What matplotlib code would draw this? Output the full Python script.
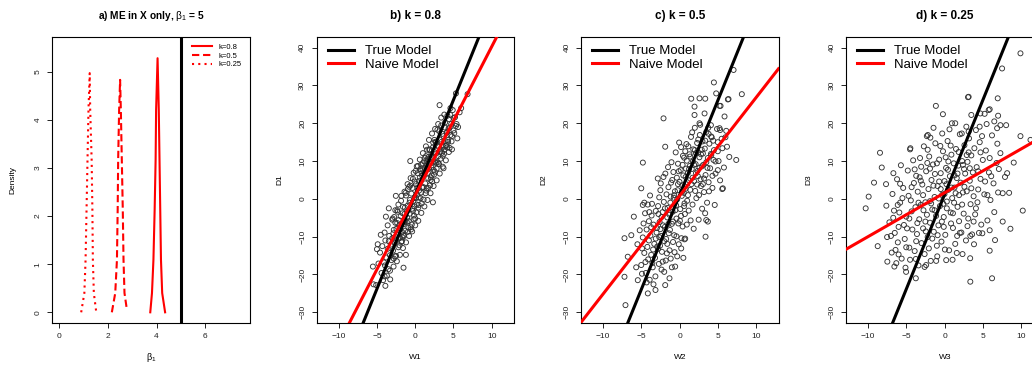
import numpy as np
import matplotlib
matplotlib.use('Agg')
import matplotlib.pyplot as plt
from matplotlib.lines import Line2D

plt.rcParams['font.family'] = ['Liberation Sans', 'DejaVu Sans']
plt.rcParams['mathtext.fontset'] = 'custom'
plt.rcParams['mathtext.rm'] = 'Liberation Sans'
plt.rcParams['mathtext.it'] = 'Liberation Sans:italic'
plt.rcParams['mathtext.bf'] = 'Liberation Sans:bold'

# ---------------- data ----------------
beta_true = 5
dens_labels = ['k=0.8', 'k=0.5', 'k=0.25']
dens08_x = [3.74, 3.81, 3.87, 3.92, 3.96, 3.98, 4.04, 4.09, 4.12, 4.15, 4.18, 4.23, 4.35]
dens08_y = [0.0, 0.40, 1.09, 2.13, 3.17, 4.21, 5.28, 4.21, 3.17, 2.13, 1.09, 0.40, 0.0]
dens05_x = [2.16, 2.30, 2.37, 2.40, 2.42, 2.46, 2.50, 2.53, 2.57, 2.61, 2.64, 2.68, 2.78]
dens05_y = [0.0, 0.40, 1.09, 2.13, 3.17, 4.21, 4.83, 4.21, 3.17, 2.13, 1.09, 0.40, 0.05]
dens025_x = [0.90, 1.03, 1.08, 1.12, 1.16, 1.20, 1.25, 1.27, 1.33, 1.36, 1.38, 1.42, 1.52]
dens025_y = [0.0, 0.40, 1.09, 2.13, 3.17, 4.21, 4.97, 4.21, 3.17, 2.13, 1.09, 0.40, 0.0]

# (W, D) points
points_b = [
    (3.18, 24.8), (6.84, 27.7), (5.32, 27.9), (4.58, 22.2), (5.32, 19.3), (4.49, 13.5), (3.70, 8.1),
    (-0.65, 10.0), (2.31, -0.9), (-2.53, 0.8), (-3.83, -4.7), (-1.22, -14.8), (-1.53, -18.2),
    (-5.53, -17.9), (-5.10, -22.8), (-3.27, -21.3), (-2.83, -17.9), (-5.0, -13.3), (-5.45, -22.6),
    (-4.6, -14.2), (-4.3, -12.5), (-4.1, -16.8), (-3.9, -11.0), (-3.8, -15.5), (-3.6, -13.2),
    (-3.5, -18.6), (-3.4, -9.8), (-3.3, -14.9), (-3.2, -12.1), (-3.1, -16.2), (-3.0, -10.4),
    (-4.4, -19.6), (-4.8, -17.1), (-3.7, -20.3), (-4.0, -8.9), (-4.2, -21.5), (-3.9, -23.0),
    (-2.9, -13.7), (-2.8, -8.2), (-2.7, -11.6), (-2.6, -6.3), (-2.5, -15.1), (-2.4, -9.5),
    (-2.3, -3.4), (-2.2, -12.8), (-2.1, -7.1), (-2.0, -10.3), (-1.9, -4.6), (-1.8, -11.4),
    (-1.7, -8.8), (-1.6, -2.1), (-1.5, -6.7), (-2.95, -5.2), (-2.65, -15.2), (-2.35, -3.0),
    (-2.05, -12.3), (-1.75, -11.2), (-1.55, -9.6), (-2.45, -7.9), (-1.85, -0.5), (-2.15, -5.6),
    (-1.65, -10.2), (-2.75, -4.8), (-2.25, -9.0),
    (-1.4, -4.0), (-1.3, -8.4), (-1.2, 0.9), (-1.1, -6.1), (-1.0, -1.8), (-0.9, -7.6), (-0.8, 3.2),
    (-0.7, -3.9), (-0.6, -7.5), (-0.5, 1.4), (-0.4, -2.6), (-0.3, 5.3), (-0.2, -5.4), (-0.1, 0.3),
    (0.0, -5.2), (0.1, 3.9), (0.2, -1.5), (0.3, 6.8), (0.4, -2.3), (0.5, 2.2), (-1.45, -9.8),
    (-1.25, 1.6), (-1.05, -3.2), (-0.85, -5.9), (-0.65, 3.5), (-0.45, -6.8), (-0.25, -0.6),
    (-0.05, 4.6), (0.15, -3.6), (0.35, 8.7), (0.45, 0.4), (-0.95, 2.6), (-0.75, -1.0), (-0.35, 2.9),
    (-0.15, -4.4), (0.05, 7.4), (0.25, 1.1), (-1.35, -2.3), (-0.55, -8.1), (0.45, -1.6),
    (0.6, 5.6), (0.7, 0.2), (0.8, 9.1), (0.9, 3.0), (1.0, 9.4), (1.1, -0.2), (1.2, 7.3), (1.3, 4.1),
    (1.4, 11.3), (1.5, 2.8), (1.6, 10.5), (1.7, 2.9), (1.8, 8.0), (1.9, 13.1), (2.0, 5.0), (2.1, 11.7),
    (2.2, 4.6), (2.3, 13.6), (2.4, 7.7), (2.5, 15.6), (0.65, 7.9), (0.85, -1.2), (1.05, 6.4),
    (1.25, 10.8), (1.45, 2.2), (1.65, 6.9), (1.85, 12.9), (2.05, 5.7), (2.25, 9.6), (2.45, 6.4),
    (0.75, 1.7), (1.15, 9.9), (1.55, 13.0), (1.95, 3.6), (2.35, 14.9), (0.95, 7.8), (1.35, 1.5),
    (1.75, 11.1), (2.15, 6.2),
    (2.6, 9.8), (2.7, 14.9), (2.8, 8.0), (2.9, 18.3), (3.0, 11.3), (3.1, 9.2), (3.2, 15.7), (3.3, 10.6),
    (3.4, 19.4), (3.5, 12.2), (3.6, 11.4), (3.7, 16.6), (3.8, 13.0), (3.9, 20.2), (4.0, 14.0),
    (4.1, 14.2), (4.2, 17.7), (4.3, 15.1), (4.4, 21.1), (2.55, 7.2), (2.75, 12.0), (2.95, 9.7),
    (3.15, 17.9), (3.35, 13.1), (3.55, 17.2), (3.75, 11.9), (3.95, 15.3), (4.15, 13.6), (4.35, 18.6),
    (2.65, 15.1), (3.05, 9.3), (3.45, 15.1), (3.85, 18.9), (4.25, 15.6),
    (4.6, 16.9), (4.7, 19.8), (4.8, 16.6), (5.0, 18.1), (5.2, 21.6), (5.4, 19.8), (5.6, 19.0),
    (4.9, 23.5), (5.1, 17.4), (5.8, 22.9), (4.75, 15.2), (6.0, 24.0),
    (-4.9, -12.0), (-4.5, -9.5), (-4.0, -20.5), (-3.6, -7.0), (-3.3, -19.0), (-3.0, -5.5),
    (-2.8, -15.8), (-2.6, -3.0), (-2.4, -16.5), (-2.2, -1.5), (-2.0, -14.8), (-1.8, 0.8),
    (-1.6, -13.0), (-1.4, 1.9), (-1.2, -11.5), (-1.0, 3.9), (-0.8, -9.8), (-0.6, 5.5), (-0.4, -8.6),
    (-0.2, 6.9), (0.0, -7.0), (0.2, 8.6), (0.4, -5.8), (0.6, 10.4), (0.8, -3.7), (1.0, 12.1),
    (1.2, -2.0), (1.4, 13.9), (1.6, -0.3), (1.8, 15.6), (2.0, 1.5), (2.2, 17.3), (2.4, 3.4),
    (2.6, 18.5), (2.8, 4.9), (3.0, 19.8), (3.2, 6.7), (3.4, 21.5), (3.6, 8.5), (3.8, 22.3),
    (4.0, 10.2), (4.2, 22.0), (4.4, 12.4), (4.6, 24.0), (4.8, 13.1), (5.0, 21.4), (5.5, 16.0),
    (-3.45, -2.5), (-3.95, -17.6), (-3.45, -11.2), (-2.85, -9.1), (-2.55, -11.0), (-2.35, -6.4),
    (-1.95, -8.0), (-1.45, -6.2), (-1.05, -5.0), (-0.7, -0.3), (-0.3, -3.2), (0.1, 0.2), (0.5, 4.7),
    (0.9, 6.1), (1.3, 8.0), (1.7, 5.4), (2.1, 8.4), (2.5, 12.4), (2.9, 14.1), (3.3, 12.5),
    (3.7, 13.8), (4.1, 17.5), (4.5, 18.9), (-0.95, -8.7), (0.7, 7.4), (1.5, 9.2), (1.9, 10.6),
    (2.3, 10.9), (2.7, 9.5), (3.1, 13.7), (-1.65, -3.8), (-2.15, -10.5), (0.3, 3.0), (-0.1, -2.0),
    (1.1, 3.1), (-1.3, -5.8),
]

points_c = [
    (7.06, 34.1), (4.49, 30.8), (8.14, 27.7), (6.32, 26.3), (4.79, 27.9), (1.53, 26.5), (3.36, 26.5),
    (-2.09, 21.3), (7.41, 10.3), (5.58, 2.6), (-4.79, 9.6), (-7.19, -10.4), (-7.19, -20.6),
    (-7.06, -28.1), (-5.97, -4.7), (-3.14, -24.1), (-4.14, -25.0), (-1.87, -22.8), (-1.31, -21.0),
    (0.74, -10.5), (3.40, -10.0), (3.49, -5.6), (-0.57, -17.9), (-6.76, -15.3), (-5.0, 2.8),
    (5.88, 21.8), (5.23, 24.6), (1.96, 24.4), (4.1, 19.5), (6.1, 18.0), (4.44, 10.3), (5.0, 7.6),
    (1.96, 22.2), (2.61, 26.6), (5.36, 24.6), (6.4, 26.4), (3.27, 22.6), (5.23, 18.7), (-2.84, 5.4),
    (2.61, 20.0), (4.14, 16.5), (-1.87, 13.8), (-6.3, -9.6), (-5.45, -21.5), (-5.66, -18.1),
    (0.22, -13.1), (0.65, -10.7), (5.66, 2.8), (3.7, -6.0), (-4.8, -1.6),
    (-5.0, -17.5), (-4.8, -10.2), (-4.6, -14.3), (-4.5, -3.8), (-4.4, -19.6), (-4.3, -8.1),
    (-4.2, -12.7), (-4.1, -16.0), (-4.0, -5.9), (-3.9, -21.4), (-3.8, -9.7), (-3.7, -14.8),
    (-3.6, -1.3), (-3.5, -18.1), (-3.4, -6.8), (-3.3, -11.9), (-3.2, -15.6), (-3.1, -3.2),
    (-3.0, -8.9), (-4.7, -6.5), (-4.9, -13.1), (-3.85, 0.9), (-3.45, -13.4), (-3.15, -20.5),
    (-4.15, -1.5), (-4.45, -16.7), (-3.65, -4.4),
    (-2.9, -12.6), (-2.8, -1.9), (-2.7, -17.2), (-2.6, -6.1), (-2.5, 2.3), (-2.4, -9.8), (-2.3, -14.0),
    (-2.2, -3.5), (-2.1, 5.8), (-2.0, -11.2), (-1.9, -7.4), (-1.8, -16.3), (-1.7, 1.2), (-1.6, -4.9),
    (-1.5, 8.4), (-1.4, -9.1), (-1.3, -13.6), (-1.2, -1.0), (-1.1, 4.3), (-1.0, -6.6), (-2.95, -7.7),
    (-2.65, 0.4), (-2.35, -18.7), (-2.05, -0.8), (-1.75, -10.6), (-1.45, 3.1), (-1.15, -15.8),
    (-2.55, -12.4), (-1.85, 6.7), (-1.25, -8.2), (-2.75, -4.0), (-2.15, -7.0), (-1.55, -2.4),
    (-1.05, 9.7), (-2.45, 4.1),
    (-0.9, -3.4), (-0.8, 7.1), (-0.7, -9.6), (-0.6, 2.0), (-0.5, 12.3), (-0.4, -5.2), (-0.3, -0.1),
    (-0.2, 9.3), (-0.1, -12.0), (0.0, 4.5), (0.1, -2.7), (0.2, 13.7), (0.3, 0.8), (0.4, -7.3),
    (0.5, 6.2), (0.6, 10.9), (0.7, -4.0), (0.8, 2.7), (0.9, 14.5), (1.0, -0.5), (-0.95, 5.0),
    (-0.65, -14.1), (-0.35, 5.6), (-0.05, 14.9), (0.25, -10.4), (0.55, 1.6), (0.85, 8.0),
    (-0.75, 0.3), (-0.15, -6.5), (0.45, 11.4), (0.95, -6.8), (-0.45, -1.7), (0.15, 7.6),
    (0.65, -1.2), (-0.85, -6.0), (0.35, 3.6), (0.75, 12.6), (-0.25, 2.3),
    (1.1, 6.9), (1.2, -3.1), (1.3, 11.8), (1.4, 2.4), (1.5, 16.4), (1.6, 7.9), (1.7, -1.5),
    (1.8, 13.1), (1.9, 4.7), (2.0, 18.8), (2.1, 9.2), (2.2, 0.2), (2.3, 14.8), (2.4, 6.0), (2.5, -5.5),
    (2.6, 11.0), (2.7, 19.6), (2.8, 3.4), (2.9, 8.6), (3.0, 15.2), (1.15, 13.9), (1.45, -5.7),
    (1.75, 9.9), (2.05, 2.1), (2.35, 7.4), (2.65, 16.9), (2.95, -2.6), (1.25, 4.9), (1.85, -7.9),
    (2.45, 12.3), (1.65, 17.6), (2.75, 5.2), (1.35, 8.7), (2.15, 12.1),
    (3.1, 9.0), (3.2, 1.8), (3.3, 13.3), (3.4, 6.3), (3.5, 17.7), (3.6, -1.0), (3.7, 10.8),
    (3.8, 4.4), (3.9, 14.6), (4.0, 8.1), (4.2, 16.3), (4.3, 2.9), (4.5, 12.9), (4.7, 6.7),
    (4.9, 18.5), (5.1, 10.0), (5.3, 4.9), (5.5, 15.9), (5.8, 8.3), (6.2, 13.8), (3.35, -3.8),
    (3.75, 18.8), (4.15, 11.6), (4.6, -1.6), (5.0, 15.0), (3.05, 12.0),
    (-5.5, -12.0), (-5.2, -8.3), (-4.9, -19.8), (-4.6, -1.0), (-4.3, -22.1), (-4.0, -11.0),
    (-3.7, -7.5), (-3.4, -22.6), (-3.1, -10.5), (-2.8, -13.2), (-2.5, -8.0), (-2.2, -16.6),
    (-1.9, -2.5), (-1.6, -11.9), (-1.3, -4.2), (-1.0, -18.1), (-0.7, 1.0), (-0.4, -9.9), (-0.1, 7.3),
    (0.2, -4.5), (0.5, -15.6), (0.8, 5.8), (1.1, 1.0), (1.4, 11.2), (1.7, 5.6), (2.0, 12.9),
    (2.3, 3.8), (2.6, 8.2), (2.9, 13.0), (3.2, 5.4), (3.5, 9.7), (3.8, 17.2), (4.1, 11.9),
    (4.4, 15.4), (4.7, 9.9), (5.0, 12.6), (5.3, 18.2), (5.6, 13.4), (6.0, 16.3), (6.5, 11.1),
    (-3.55, -16.9), (-2.35, -4.8), (-1.45, -6.6), (-0.55, -3.0), (0.35, 1.9), (1.25, 7.9),
    (2.15, 6.8), (3.05, 3.9), (-0.2, 3.9), (0.6, -1.9), (1.55, 3.9), (2.45, 15.7), (3.35, 15.4),
    (-1.65, -14.4), (-2.65, -10.1), (-0.85, -11.4), (0.05, -5.8), (0.95, 10.1), (1.9, 9.0),
    (2.8, 11.8), (3.65, 8.2), (-3.95, -3.5), (-2.0, -19.3), (4.3, 6.1), (-1.15, 0.6), (0.4, 9.0),
    (1.0, 4.4), (-0.3, -15.2), (2.55, 1.0), (3.85, 2.0),
]

points_d = [
    (9.92, 38.5), (7.52, 34.5), (6.95, 26.6), (3.15, 27.0), (-1.13, 24.6), (-0.21, 22.4),
    (11.23, 15.6), (9.92, 16.6), (10.22, -3.1), (8.61, -7.9), (8.44, 1.6), (6.21, -21.0),
    (3.37, -21.9), (5.90, -13.7), (-10.3, -2.5), (-9.91, 0.6), (-9.21, 4.3), (-8.43, 12.2),
    (-8.2, 8.3), (-8.73, -12.5), (-7.64, 3.9), (-6.68, 6.8), (-7.47, -16.6), (-6.55, -17.9),
    (-3.75, -21.0), (-2.4, -17.5), (-1.44, 18.8), (-2.31, 16.6), (-4.5, 13.1),
    (6.87, 18.7), (4.68, 22.6), (5.77, 23.5), (8.05, 19.5), (8.18, 6.8), (9.04, 9.6), (0.97, 20.0),
    (1.4, 20.0), (3.15, 17.8), (3.07, 26.9), (5.9, 23.7), (7.0, 22.0), (3.5, 22.2), (5.24, 22.5),
    (7.3, 19.5), (4.59, 19.1), (-6.11, -1.6), (-5.02, -19.3), (3.37, -9.8), (4.94, -9.1),
    (0.22, -16.2), (-1.09, -16.4), (-4.46, 13.4), (-2.18, 16.9),
    (-7.2, -6.2), (-7.0, -9.8), (-6.8, 1.3), (-6.6, -3.1), (-6.4, -13.5), (-6.2, 5.2), (-6.0, -7.4),
    (-5.8, -1.0), (-5.6, -15.8), (-5.4, 2.9), (-5.2, -10.6), (-5.0, -4.7), (-4.8, 7.5),
    (-4.6, -12.9), (-4.4, -0.4), (-4.2, -8.1), (-4.0, 4.2), (-6.9, -14.2), (-6.3, -17.0),
    (-5.7, 8.9), (-5.1, -18.2), (-4.5, -16.1), (-4.1, 10.2), (-5.9, -3.6), (-4.7, 0.8), (-6.5, -9.0),
    (-5.3, -6.9), (-4.3, -3.3), (-7.5, -10.1), (-7.6, -1.8),
    (-3.9, -13.8), (-3.8, -2.2), (-3.7, 6.1), (-3.6, -9.3), (-3.5, 1.9), (-3.4, -17.6), (-3.3, -5.4),
    (-3.2, 10.8), (-3.1, -1.6), (-3.0, -11.7), (-2.9, 3.8), (-2.8, -7.8), (-2.7, 13.9),
    (-2.6, -14.6), (-2.5, -0.9), (-2.4, 7.3), (-2.3, -4.2), (-2.2, -10.1), (-2.1, 2.6), (-2.0, 11.2),
    (-1.9, -6.3), (-1.8, -16.4), (-1.7, 5.0), (-1.6, -2.8), (-1.5, 9.1), (-1.4, -8.7), (-1.3, 0.5),
    (-1.2, 14.7), (-1.1, -4.5), (-1.0, -12.4), (-3.75, -15.9), (-3.25, 5.7), (-2.75, -3.0),
    (-2.25, 9.5), (-1.75, -1.2), (-1.25, 6.6), (-3.55, -6.4), (-2.05, -13.1), (-1.45, 3.5),
    (-3.05, 8.5), (-2.45, -8.6), (-1.85, 16.2),
    (-0.9, 3.4), (-0.8, -7.0), (-0.7, 10.4), (-0.6, -1.9), (-0.5, 6.8), (-0.4, -11.3), (-0.3, 1.1),
    (-0.2, 12.6), (-0.1, -4.8), (0.0, 4.7), (0.1, -9.5), (0.2, 8.2), (0.3, -0.7), (0.4, 15.3),
    (0.5, 2.4), (0.6, -13.6), (0.7, 6.0), (0.8, -3.6), (0.9, 11.7), (1.0, 0.2), (1.1, -7.7),
    (1.2, 9.4), (1.3, 3.0), (1.4, -11.9), (1.5, 13.2), (1.6, 5.5), (1.7, -2.1), (1.8, 8.8),
    (1.9, -5.9), (2.0, 17.1), (-0.95, -15.2), (-0.55, 14.0), (-0.15, -1.3), (0.25, 3.9),
    (0.65, 18.4), (1.05, -16.1), (1.45, 1.5), (1.85, 12.4), (-0.75, 0.1), (0.15, 11.0),
    (0.85, -6.5), (1.65, -9.8), (-0.35, -6.0), (0.45, 7.7), (1.25, -1.0), (0.05, -13.4),
    (2.1, 4.3), (2.2, -8.9), (2.3, 10.0), (2.4, 1.7), (2.5, -3.9), (2.6, 14.2), (2.7, 6.7),
    (2.8, -11.0), (2.9, 2.0), (3.0, 9.8), (3.1, -5.2), (3.2, 16.0), (3.3, 4.8), (3.4, -1.4),
    (3.5, 11.5), (3.6, -9.4), (3.7, 7.0), (3.8, 0.7), (3.9, 13.4), (4.0, -4.1), (4.2, 8.4),
    (4.4, 2.5), (4.6, 15.0), (4.8, -6.8), (5.0, 10.3), (2.35, -14.6), (2.85, 19.1), (3.35, -15.7),
    (3.85, -12.0), (4.3, -0.9), (4.7, 5.3), (2.55, 7.9), (3.15, 12.3), (4.1, 18.2), (4.5, -9.0),
    (2.25, 17.3),
    (5.2, 1.2), (5.4, 12.8), (5.6, -5.7), (5.8, 7.0), (6.0, -0.3), (6.2, 16.8), (6.4, 4.1),
    (6.6, -10.9), (6.8, 9.5), (7.0, 1.7), (7.3, 12.1), (7.6, -6.0), (7.9, 5.8), (5.5, 19.8),
    (6.5, 20.5), (5.9, -8.3), (6.9, 14.6),
    (-6.7, -5.0), (-6.1, -11.5), (-5.5, 0.2), (-4.9, -7.8), (-4.3, 3.1), (-3.7, -11.2), (-3.1, 4.8),
    (-2.5, -6.0), (-1.9, 8.0), (-1.3, -3.0), (-0.7, 4.6), (-0.1, -7.4), (0.5, 9.9), (1.1, -3.8),
    (1.7, 6.7), (2.3, -1.5), (2.9, 11.6), (3.5, 2.8), (4.1, -2.5), (4.7, 12.3), (5.3, 4.6),
    (5.9, 10.8), (6.5, -3.5), (7.1, 7.9), (-2.2, 13.0), (-1.0, 9.4), (0.8, 14.1), (2.0, -9.0),
    (3.0, -7.2), (-3.4, -1.0), (-4.6, -5.2), (-5.8, 4.0), (0.3, -2.5), (1.3, 6.2), (2.6, 3.2),
    (-0.5, 2.6), (-1.6, -10.5), (4.4, 7.3), (5.6, 1.0), (-2.8, 1.0), (-0.9, -9.6), (1.9, 1.0),
    (3.3, 8.1), (0.0, 1.3), (0.9, 3.0), (-1.9, -0.6), (2.4, 9.0), (-3.9, 7.8), (6.1, 6.0),
    (-5.0, -12.8), (3.8, -6.0), (-0.3, 17.3), (1.6, -14.3), (-2.6, -18.0), (4.9, 16.6),
    (-6.0, -14.7), (7.6, 1.5),
]

# fitted lines: (intercept, slope)
true_b, naive_b = (1.2, 5.0), (1.0, 3.93)
true_c, naive_c = (1.0, 5.0), (0.8, 2.6)
true_d, naive_d = (1.1, 5.0), (1.6, 1.16)

panel_titles = ['b) k = 0.8', 'c) k = 0.5', 'd) k = 0.25']
x_labels = ['W1', 'W2', 'W3']
y_labels = ['D1', 'D2', 'D3']
scatter_xticks = [-10, -5, 0, 5, 10]
scatter_yticks = [-30, -20, -10, 0, 10, 20, 30, 40]

# ---------------- layout ----------------
FW, FH = 1032, 367
fig = plt.figure(figsize=(FW / 100, FH / 100), dpi=100)
AX_TOP, AX_BOT = 36.7, 322.7
AX_H = AX_BOT - AX_TOP


def add_ax(left_px, width_px):
    return fig.add_axes([left_px / FW, (FH - AX_BOT) / FH, width_px / FW, AX_H / FH])


def style_axes(ax):
    for s in ax.spines.values():
        s.set_linewidth(0.8)
        s.set_color('black')
    ax.tick_params(direction='out', length=3.6, width=0.7, labelsize=6, pad=4.0, colors='#222222')
    ax.tick_params(axis='y', labelrotation=90)
    plt.setp(ax.get_yticklabels(), va='center')


# panel a
axa = add_ax(52, 198)
axa.plot(dens08_x, dens08_y, color='red', lw=1.5, solid_joinstyle='round')
axa.plot(dens05_x, dens05_y, color='red', lw=1.5, dashes=(3.5, 1.8))
axa.plot(dens025_x, dens025_y, color='red', lw=1.5, dashes=(1.0, 2.0))
axa.axvline(beta_true, color='black', lw=2.2)
axa.set_xlim(-0.3, 7.84)
axa.set_ylim(-0.216, 5.727)
axa.set_xticks([0, 2, 4, 6])
axa.set_yticks([0, 1, 2, 3, 4, 5])
style_axes(axa)
handles = [Line2D([], [], color='red', lw=1.5),
           Line2D([], [], color='red', lw=1.5, dashes=(3.5, 1.8)),
           Line2D([], [], color='red', lw=1.5, dashes=(1.0, 2.0))]
axa.legend(handles, dens_labels, loc='upper left', bbox_to_anchor=(0.694, 0.985), frameon=False,
           fontsize=5.5, handlelength=2.6, handletextpad=0.9, labelspacing=0.2,
           borderpad=0.3, borderaxespad=0)
axa.text(0.5, 1.072, r'a) ME in X only, $\mathrm{\beta}_1$ = 5', transform=axa.transAxes,
         ha='center', va='center', fontsize=7.3, fontweight='bold')
axa.text(0.5, -0.121, r'$\mathrm{\beta}_1$', transform=axa.transAxes, ha='center', va='center',
         fontsize=6.5)
axa.text(-39 / 198, 0.5, 'Density', transform=axa.transAxes, ha='center', va='center',
         rotation=90, fontsize=6)

panels = [
    (316.7, points_b, true_b, naive_b),
    (581.0, points_c, true_c, naive_c),
    (846.0, points_d, true_d, naive_d),
]
for i, (left, pts, tr, nv) in enumerate(panels):
    width = 197.5
    ax = add_ax(left, width)
    arr = np.array(pts)
    ax.scatter(arr[:, 0], arr[:, 1], s=13, facecolors='none', edgecolors='#333333',
               linewidths=0.65, zorder=2)
    ax.axline((0, tr[0]), slope=tr[1], color='black', lw=2.2, zorder=3)
    ax.axline((0, nv[0]), slope=nv[1], color='red', lw=2.2, zorder=3)
    ax.set_xlim(-12.87, 12.93)
    ax.set_ylim(-32.75, 42.9)
    ax.set_xticks(scatter_xticks)
    ax.set_yticks(scatter_yticks)
    style_axes(ax)
    ax.legend(handles=[Line2D([], [], color='black', lw=2.2), Line2D([], [], color='red', lw=2.2)],
              labels=['True Model', 'Naive Model'], loc='upper left',
              bbox_to_anchor=(0.035, 0.984), frameon=False, fontsize=9.5, handlelength=2.0,
              handletextpad=0.85, labelspacing=0.1, borderpad=0.3, borderaxespad=0)
    ax.text(0.5, 1.072, panel_titles[i], transform=ax.transAxes, ha='center', va='center',
            fontsize=8.5, fontweight='bold')
    ax.text(0.5, -0.121, x_labels[i], transform=ax.transAxes, ha='center', va='center',
            fontsize=6)
    ax.text(-36.7 / width, 0.5, y_labels[i], transform=ax.transAxes, ha='center', va='center',
            rotation=90, fontsize=6)

fig.savefig('out.png', dpi=100)
